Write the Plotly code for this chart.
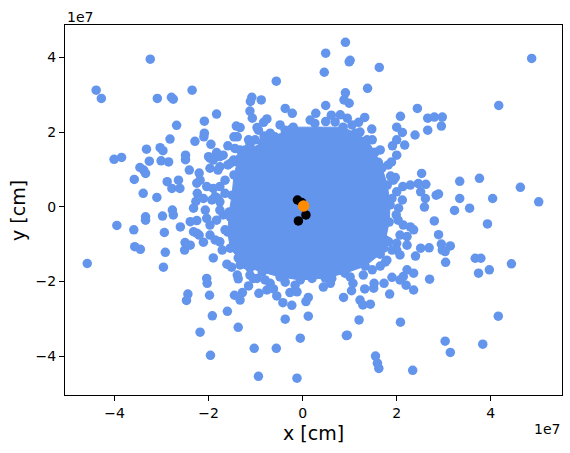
import plotly.graph_objects as go

SCALE = 1e7  # values below are in units of 1e7 cm

# Outline of the solid, densely overlapped core of the blue cloud (x, y in 1e7 cm)
core_x = [-0.20, 0.86, 1.12, 1.37, 1.54, 1.69, 1.80, 1.86, 1.84, 1.76, 1.65, 1.33, 0.90, 0.48,
          -0.05, -0.48, -0.86, -1.12, -1.37, -1.54, -1.59, -1.56, -1.50, -1.46, -1.37, -1.16,
          -0.86, -0.59, -0.37]
core_y = [2.13, 2.13, 1.97, 1.79, 1.46, 1.04, 0.58, 0.05, -0.41, -0.89, -1.27, -1.59, -1.78,
          -1.91, -1.96, -1.88, -1.75, -1.64, -1.37, -1.11, -0.68, -0.14, 0.31, 0.85, 1.25, 1.52,
          1.71, 1.87, 2.05]

# Individual blue points (x, y in 1e7 cm)
blue_x = [-3.24, -4.39, -4.28, -2.35, -3.09, -2.79, -2.75, -0.56, -1.08, -1.11, -0.88, -0.37,
          -0.22, -1.12, -1.07, -1.83, -2.09, -2.68, -1.41, -1.33, -0.76, -0.83, -0.94, -0.97,
          -0.25, -2.09, -2.10, -2.29, -1.95, -2.82, -3.32, -3.03, -2.97, -1.59, -1.46, -1.39,
          -2.49, -2.49, -1.83, -1.69, -4.01, -3.85, -3.46, -3.38, -3.34, -3.26, -3.01, -2.85,
          -3.58, -2.41, -2.20, -2.88, -2.64, -2.61, -2.78, -3.39, -3.10, -2.25, -2.24, -2.27,
          -1.90, -1.76, -1.80, -1.93, -3.95, -3.59, -3.34, -3.34, -2.98, -2.77, -2.75, -2.60,
          -2.39, -2.25, -2.94, -3.57, -3.45, -4.58, -2.92, -2.96, -2.50, -2.51, -2.39, -2.11,
          -2.25, -2.20, -1.90, -2.04, -2.03, -1.98, -2.44, -2.47, -1.92, -2.18, -1.96, -1.60,
          -1.37, -1.61, -1.51, -1.39, -1.37, -1.45, -1.28, -1.33, -1.15, -1.03, -0.56, -0.94,
          -0.12, -0.37, -0.93, -0.76, -0.62, -0.55, -0.42, -0.27, -0.23, -0.37, -1.19, -0.97,
          -0.80, -0.05, 3.93, 2.80, 2.89, 2.95, 3.14, 3.03, 2.97, 2.51, 2.69, 2.40, 3.04, 3.67,
          3.79, 3.74, 3.97, 4.44, 2.70, 2.36, 2.22, 2.14, 2.07, 2.20, 2.36, 1.90, 1.73, 1.85,
          1.52, 1.51, 1.32, 1.07, 1.04, 0.87, 1.22, 1.28, 1.44, 0.44, 0.12, 0.07, 0.12, 1.20,
          2.08, 0.93, 0.95, 3.03, 3.14, 3.83, 4.16, 1.55, 1.59, 1.62, 2.34, -0.12, 0.91, 0.49,
          1.01, 0.99, 0.46, 1.63, 4.87, 0.91, 0.88, 0.99, 1.38, 0.49, 4.17, 2.44, 2.08, 2.66,
          2.80, 2.97, 2.95, 2.66, 2.39, 2.00, 2.12, 1.47, 1.32, 1.19, 0.28, 0.61, 0.80, 0.95,
          2.00, 1.91, 2.17, 1.31, 1.46, 1.61, 2.00, 1.89, 2.53, 3.34, 3.76, 4.63, 1.87, 1.97,
          2.13, 2.29, 2.46, 2.62, 2.51, 2.61, 2.59, 2.84, 2.89, 3.34, 4.04, 5.02, 3.23, 3.55,
          2.12, 0.26, 0.49, 0.37, -1.44, -0.82, -0.71, -1.15, -1.12, -2.00, -1.90, -1.33, -1.19,
          -0.97, -1.97, -1.76, -1.54, -1.40, -1.97, -1.76, -1.47, -2.04, -1.65, -1.86, -2.11,
          -1.76, -2.32, -2.04, -1.83, -1.69, -1.54, -2.32, -1.97, -1.76, -1.05, 1.65, 1.79,
          1.29, 0.48, 0.62, 0.20, 0.87, 1.29, 2.00, 1.90, 2.04, 1.99, 2.29, 2.14, 2.07, 2.22,
          2.36, 2.00, 1.83, 1.65, 1.69, 2.00, 2.22, 2.07, 1.58, 1.47, 1.72,
          -2.18, -2.07, -1.97, -1.86, -1.71, -1.65, -1.76, -1.65, -1.80, -1.59,
          0.16, 0.69, 1.05, 1.22, 1.48, 1.65, 1.82, 1.93, 2.03, 1.90, 1.76, 1.48,
          1.01, 0.59, -0.16, -0.69, -1.12, -1.33, -0.69, -0.48, -1.01, -1.22, -1.33]
blue_y = [3.95, 3.12, 2.90, 3.12, 2.90, 2.93, 2.88, 3.36, 2.93, 2.82, 2.86, 2.63,
          2.50, 2.56, 2.37, 2.48, 2.29, 2.18, 2.16, 2.12, 2.35, 2.26, 2.05, 2.12,
          2.07, 1.97, 1.87, 1.75, 1.67, 1.81, 1.54, 1.58, 1.50, 1.63, 1.87, 1.87,
          1.38, 1.26, 1.45, 1.38, 1.27, 1.32, 1.05, 0.98, 0.89, 1.22, 1.23, 1.20,
          0.73, 0.98, 0.90, 0.67, 0.71, 0.49, 0.49, 0.36, 0.25, 0.63, 0.36, 0.14,
          0.49, 0.54, 0.22, 0.18, -0.50, -0.62, -0.27, -0.36, -0.25, -0.09, -0.22, -0.54,
          -0.40, -0.37, -0.69, -1.07, -1.14, -1.52, -1.22, -1.62, -0.96, -1.16, -1.03, -0.95,
          -0.71, -0.76, -1.37, -1.92, -2.05, -2.37, -2.34, -2.51, -2.92, -3.36, -3.98, -2.80,
          -3.23, -1.54, -1.62, -1.83, -1.93, -2.37, -2.30, -2.50, -2.12, -3.79, -3.79, -4.54,
          -4.59, -3.01, -2.32, -2.23, -2.20, -2.39, -2.57, -2.30, -2.64, -2.02, -1.56, -1.92,
          -1.96, -3.52, -0.46, -0.38, -0.75, -1.00, -1.05, -1.20, -1.16, -1.11, -1.10, -1.32, -1.49, -1.38,
          -1.38, -1.78, -1.69, -1.53, -1.94, -1.78, -1.69, -1.87, -1.96, -2.10, -2.23, -1.89, -2.05, -2.34,
          -2.05, -2.18, -2.20, -2.05, -2.25, -2.43, -2.50, -2.63, -2.61, -2.15, -2.43, -2.54, -2.93, -3.03,
          -3.09, -3.45, -3.44, -3.60, -3.90, -3.68, -2.93, -4.00, -4.19, -4.33, -4.38, -2.28, 4.40, 4.11,
          3.92, 3.88, 3.60, 3.73, 3.97, 3.05, 2.86, 2.77, 3.17, 2.71, 2.71, 2.63, 2.42, 2.37,
          2.40, 2.40, 2.16, 2.05, 1.92, 2.13, 1.99, 2.08, 2.39, 2.26, 2.50, 2.45, 2.46, 2.37,
          1.79, 1.63, 1.65, 1.73, 1.39, 1.19, 1.38, 1.20, 0.89, 0.68, 0.76, 0.52, 0.82, 0.78,
          0.54, 0.58, 0.62, 0.60, 0.40, 0.22, -0.01, 0.31, 0.34, 0.22, 0.22, 0.13, -0.10, -0.04,
          0.18, 2.23, 2.28, 2.01, 1.56, 1.89, 1.76, 1.79, 1.65, 1.34, 1.25, 1.52, 1.34,
          1.43, 1.03, 1.07, 1.16, 1.20, 1.30, 1.34, 1.25, 0.54, 0.36, 0.27, 0.22,
          0.13, -0.04, -0.31, -0.36, -0.22, -0.27, -0.67, -0.76, -0.94, -1.92, -1.59, -1.43,
          -1.83, -1.83, -1.92, -1.92, -1.69, -1.52, 0.40, 0.22, -0.04, -0.22, -0.54, -0.49, -0.76, -0.80,
          -0.62, -0.98, -0.94, -0.85, -0.67, -1.16, -1.03, -1.29, -0.89, -0.98, -1.11,
          0.71, -0.09, -0.49, -0.89, -1.16, -0.62, -0.09, 0.71, 0.98, 1.12,
          2.32, 2.27, 2.19, 2.00, 1.79, 1.52, 1.12, 0.71, -0.36, -1.16, -1.48, -1.69,
          -1.88, -2.05, -2.10, -2.05, -1.83, -1.56, 1.97, 2.19, 1.79, 1.52, 1.30]

# Black points and orange point near the origin (x, y in 1e7 cm)
black_x = [-0.11, -0.02, 0.07, -0.09]
black_y = [0.18, 0.11, -0.22, -0.38]
orange_x = [0.02]
orange_y = [0.02]

# Axis ticks (in 1e7 cm)
x_ticks = [-4, -2, 0, 2, 4]
y_ticks = [-4, -2, 0, 2, 4]

BLUE = "#6495ED"
FONT = "DejaVu Sans"

def s(v):
    return [a * SCALE for a in v]

def lab(t):
    return [("\u2212" + str(abs(a))) if a < 0 else str(a) for a in t]

fig = go.Figure()
fig.add_trace(go.Scatter(x=s(core_x), y=s(core_y), mode="lines+markers", fill="toself",
                         fillcolor=BLUE, line=dict(color=BLUE, width=1),
                         marker=dict(color=BLUE, size=9.5), hoverinfo="skip", showlegend=False))
fig.add_trace(go.Scatter(x=s(blue_x), y=s(blue_y), mode="markers",
                         marker=dict(color=BLUE, size=9.5, line=dict(width=0)), showlegend=False))
fig.add_trace(go.Scatter(x=s(black_x), y=s(black_y), mode="markers",
                         marker=dict(color="black", size=9.5, line=dict(width=0)), showlegend=False))
fig.add_trace(go.Scatter(x=s(orange_x), y=s(orange_y), mode="markers",
                         marker=dict(color="#FF8C00", size=11.5, line=dict(width=0)), showlegend=False))

axis_common = dict(showgrid=False, zeroline=False, showline=True, mirror=True,
                   linecolor="black", linewidth=1, ticks="outside", ticklen=5,
                   tickwidth=1, tickcolor="black",
                   tickfont=dict(family=FONT, size=14, color="black"))
fig.update_xaxes(range=[-5.053 * SCALE, 5.515 * SCALE], tickvals=s(x_ticks),
                 ticktext=lab(x_ticks), **axis_common)
fig.update_yaxes(range=[-5.041 * SCALE, 4.865 * SCALE], tickvals=s(y_ticks),
                 ticktext=lab(y_ticks), **axis_common)

fig.update_layout(
    width=570, height=453,
    margin=dict(l=65, r=8, t=25, b=58),
    paper_bgcolor="white", plot_bgcolor="white",
    annotations=[
        dict(text="x [cm]", xref="paper", yref="paper", x=0.5, y=-0.103,
             xanchor="center", yanchor="middle", showarrow=False,
             font=dict(family=FONT, size=19, color="black")),
        dict(text="y [cm]", xref="paper", yref="paper", x=-0.0946, y=0.5, textangle=-90,
             xanchor="center", yanchor="middle", showarrow=False,
             font=dict(family=FONT, size=19, color="black")),
        dict(text="1e7", xref="paper", yref="paper", x=0, y=1.0216,
             xanchor="left", yanchor="middle", showarrow=False,
             font=dict(family=FONT, size=14, color="black")),
        dict(text="1e7", xref="paper", yref="paper", x=1, y=-0.092,
             xanchor="right", yanchor="middle", showarrow=False,
             font=dict(family=FONT, size=14, color="black")),
    ],
)

fig.write_html("out.html")
